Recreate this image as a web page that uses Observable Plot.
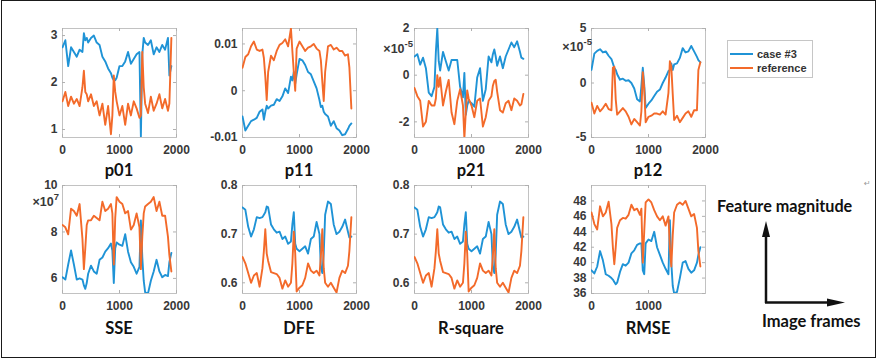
<!DOCTYPE html>
<html><head><meta charset="utf-8">
<script src="https://cdn.jsdelivr.net/npm/d3@7"></script>
<script src="https://cdn.jsdelivr.net/npm/@observablehq/plot@0.6"></script>
<style>
body{margin:0;background:#fff;}
#fig{position:relative;width:877px;height:360px;overflow:hidden;background:#fff;}
#fig svg.panel{position:absolute;}
#border{position:absolute;left:1px;top:0px;width:873px;height:356px;border:1.5px solid #1a1a1a;box-sizing:content-box;}
#legend{position:absolute;left:727px;top:40px;width:84px;height:36px;border:1px solid #c6c6c6;background:#fff;font-family:"Liberation Sans",Arial,sans-serif;font-weight:700;font-size:11px;color:#333;}
.lg{position:absolute;left:2px;height:14px;display:flex;align-items:center;}
.lg span.sw{display:inline-block;width:23px;height:2px;margin-right:4px;}
#overlay{position:absolute;left:0;top:0;}
</style></head>
<body><div id="fig"><div id="border"></div></div>
<script>
// ---------- data ----------
const frames = [0,50,100,150,200,250,300,350,375,400,425,450,500,550,600,650,700,750,800,850,875,900,925,950,1000,1050,1100,1150,1200,1250,1300,1350,1375,1400,1425,1450,1500,1550,1600,1650,1700,1750,1800,1850,1875,1910];

const p01Case3 = [2.75,2.9,2.35,2.75,2.65,2.55,2.7,2.65, 3.05,2.9,2.95, 2.85,2.95,3.0,2.85,2.8,2.55,2.45,2.3,2.2, 2.1,2.05,2.05, 2.1,2.35,2.35,2.45,2.65,2.4,2.5,2.6,2.65, 0.85,2.6,2.95, 2.85,2.8,2.9,2.6,2.75,2.65,2.8,2.7,2.95, 2.15,2.35];
const p01Ref   = [1.6,1.8,1.5,1.7,1.55,1.65,1.5,1.9, 2.25,1.8,1.75, 1.6,1.75,1.5,1.6,1.3,1.55,1.1,1.5,0.9, 1.3,2.15,1.8, 1.6,1.3,1.5,1.1,1.55,1.3,1.6,1.45,1.25, 1.3,2.65,1.9, 1.55,1.35,1.7,1.4,1.55,1.75,1.45,1.65,1.4, 1.55,2.95];

const p11Case3 = [-0.0055,-0.0085,-0.0075,-0.0065,-0.0062,-0.0058,-0.0045,-0.004, -0.0062,-0.0045,-0.0032, -0.0038,-0.0032,-0.003,-0.0018,-0.0022,-0.0012,0.0005,-0.0005,0.003, 0.0022,0.004,0.0015, 0.0035,0.0068,0.0065,0.0055,0.004,0.0035,0.002,0.0005,-0.002, -0.0035,-0.0032,-0.0045, -0.005,-0.0055,-0.0075,-0.0065,-0.008,-0.0085,-0.0095,-0.0093,-0.0082, -0.0075,-0.007];
const p11Ref   = [0.0049,0.0072,0.0078,0.0095,0.0105,0.0088,0.0085,0.0088, 0.007,0.003,-0.002, 0.004,0.0075,0.0065,0.0085,0.0098,0.0102,0.011,0.0095,0.0133, 0.0085,0.004,0.0, 0.009,0.0105,0.0095,0.0085,0.0092,0.0095,0.01,0.009,0.0085, 0.0065,0.002,-0.0022, 0.004,0.0095,0.0098,0.0088,0.0092,0.0085,0.0085,0.0075,0.0078, 0.005,-0.0038];

// p21 and p12 in units of 1e-5
const p21Case3 = [0.8,0.9,0.45,0.75,0.3,-0.75,-0.9,-0.5, 1.0,2.0,0.6, 0.2,1.0,0.6,0.2,0.65,0.65,0.65,-0.5,-0.95, 0.1,-1.7,-1.3, -1.1,-1.2,-1.35,-0.1,0.3,-1.1,-0.6,0.8,0.55, 0.9,1.1,0.8, 0.4,0.8,0.3,0.8,1.1,1.4,1.2,1.45,1.0, 0.75,0.7];
const p21Ref   = [-0.55,-0.9,-1.1,-2.2,-2.0,-1.1,-1.3,-1.3, -1.0,0.0,-0.5, -0.1,-1.3,-0.7,-0.2,-1.6,-2.1,-1.1,-0.6,-1.3, -2.7,-1.6,-0.65, -1.0,-1.3,-1.8,-1.1,-1.0,-2.2,-1.8,-1.1,-0.9, -0.45,-0.25,-0.2, -0.7,-1.5,-1.6,-1.2,-1.1,-1.5,-1.0,-1.1,-1.3, -1.25,-0.8];

const p12Case3 = [1.2,2.7,2.95,3.1,2.8,2.9,2.5,2.2, 1.8,1.4,1.2, 0.8,0.3,0.4,0.2,0.25,0.0,-0.5,-1.5,-1.7, -0.3,1.4,-0.2, -2.3,-1.9,-1.6,-1.2,-0.8,-0.6,0.0,0.5,1.1, 1.2,1.8,1.2, 1.7,1.8,2.3,3.2,2.8,2.9,3.4,2.9,2.4, 2.1,1.9];
const p12Ref   = [-1.8,-2.8,-2.1,-2.6,-2.3,-1.9,-2.4,-2.5, 1.4,1.5,-1.5, -2.9,-2.6,-2.3,-2.6,-3.1,-3.8,-3.3,-3.6,-3.9, -2.6,1.0,-0.5, -3.6,-3.1,-3.0,-2.8,-2.8,-2.9,-2.6,-2.9,-0.9, 2.0,1.5,-1.0, -3.4,-3.0,-3.6,-3.2,-2.8,-2.6,-3.1,-2.5,-2.5, 1.2,1.9];

// SSE in units of 1e7
const sseCase3 = [6.05,5.95,6.6,7.2,6.6,5.95,6.0,5.95, 5.7,5.55,5.8, 6.2,6.55,6.3,6.2,6.8,6.9,7.15,7.3,7.5, 7.2,5.8,7.3, 7.55,7.45,7.4,7.9,7.15,6.7,6.5,6.2,6.5, 8.5,6.9,5.9, 5.4,5.35,5.9,6.3,6.8,6.3,6.05,6.15,6.1, 6.7,7.1];
const sseRef   = [8.3,8.2,7.9,9.0,8.9,8.7,9.2,7.7, 6.4,7.3,8.3, 8.5,8.5,8.7,8.6,8.5,9.3,8.9,9.0,9.2, 8.8,6.6,8.6, 9.5,9.3,9.2,8.8,8.9,8.1,8.3,8.8,8.2, 6.4,7.8,8.8, 9.1,9.2,9.3,9.5,8.9,9.3,8.7,8.7,7.8, 7.0,6.3];

const dfeCase3 = [0.755,0.75,0.715,0.695,0.71,0.735,0.733,0.735, 0.74,0.745,0.757, 0.755,0.72,0.71,0.703,0.705,0.69,0.695,0.68,0.685, 0.72,0.745,0.68, 0.67,0.665,0.67,0.675,0.66,0.69,0.695,0.725,0.70, 0.632,0.62,0.66, 0.74,0.767,0.762,0.72,0.70,0.705,0.715,0.73,0.705, 0.693,0.695];
const dfeRef   = [0.653,0.64,0.62,0.60,0.615,0.62,0.592,0.63, 0.665,0.71,0.66, 0.645,0.622,0.62,0.618,0.61,0.588,0.605,0.592,0.6, 0.64,0.705,0.66, 0.582,0.59,0.595,0.61,0.64,0.625,0.62,0.625,0.615, 0.655,0.71,0.63, 0.6,0.592,0.6,0.59,0.58,0.61,0.625,0.62,0.635, 0.665,0.735];

const rsqCase3 = [0.755,0.75,0.715,0.695,0.71,0.735,0.733,0.735, 0.74,0.745,0.757, 0.755,0.72,0.71,0.703,0.705,0.69,0.695,0.68,0.685, 0.72,0.745,0.68, 0.67,0.665,0.67,0.675,0.66,0.69,0.695,0.725,0.70, 0.632,0.62,0.66, 0.74,0.767,0.762,0.72,0.70,0.705,0.715,0.73,0.705, 0.693,0.695];
const rsqRef   = [0.653,0.64,0.62,0.60,0.615,0.62,0.592,0.63, 0.665,0.71,0.66, 0.645,0.622,0.62,0.618,0.61,0.588,0.605,0.592,0.6, 0.64,0.705,0.66, 0.582,0.59,0.595,0.61,0.64,0.625,0.62,0.625,0.615, 0.655,0.71,0.63, 0.6,0.592,0.6,0.59,0.58,0.61,0.625,0.62,0.635, 0.665,0.735];

const rmseCase3 = [39.0,38.6,39.5,41.5,40.3,38.5,38.3,38.0, 37.8,37.5,37.2, 37.4,38.8,39.8,39.6,40.0,41.2,41.6,42.3,42.5, 42.5,39.0,38.5, 42.5,43.0,42.8,44.0,42.0,41.0,40.0,39.2,38.5, 45.5,40.0,37.0, 36.0,36.2,38.0,40.0,40.2,39.2,38.7,39.0,40.0, 41.0,42.0];
const rmseRef   = [46.5,45.0,44.3,47.3,46.0,46.5,47.9,45.0, 42.0,39.8,42.0, 44.5,45.5,45.8,45.7,46.2,47.5,46.8,47.0,46.2, 47.0,40.0,44.0, 47.8,48.2,47.8,46.8,46.0,45.5,46.0,44.8,46.0, 42.0,39.5,43.5, 46.5,47.5,47.8,47.5,48.0,47.0,46.0,46.3,44.5, 41.5,39.5];

const xTicksFull = [0, 1000, 2000];
const xTicksShort = [0, 1000];
const p01Ticks = [1, 2, 3];
const p11Ticks = [-0.01, 0, 0.01];
const p21Ticks = [-2, 0, 2];
const p12Ticks = [-5, 0, 5];
const sseTicks = [6, 8, 10];
const dfeTicks = [0.6, 0.7, 0.8];
const rmseTicks = [36, 38, 40, 42, 44, 46, 48];
const seriesNames = ["case #3", "reference"];
const titles = ["p01","p11","p21","p12","SSE","DFE","R-square","RMSE"];

// ---------- drawing ----------
const BLUE = "#1f93d6", ORANGE = "#f36a2a";
const fig = document.getElementById("fig");
const colLeft = [62, 242, 414, 591];
const rowTop = [28, 185];
const rowH = [109, 108];
const W = 114;

const panels = [
  {c3:p01Case3, ref:p01Ref, yDomain:[0.83,3.15], yTicks:p01Ticks, xTicks:xTicksFull},
  {c3:p11Case3, ref:p11Ref, yDomain:[-0.01,0.0133], yTicks:p11Ticks, xTicks:xTicksFull},
  {c3:p21Case3, ref:p21Ref, yDomain:[-2.67,2.0], yTicks:p21Ticks, xTicks:xTicksFull},
  {c3:p12Case3, ref:p12Ref, yDomain:[-5,5], yTicks:p12Ticks, xTicks:xTicksFull},
  {c3:sseCase3, ref:sseRef, yDomain:[5.35,10], yTicks:sseTicks, xTicks:xTicksFull},
  {c3:dfeCase3, ref:dfeRef, yDomain:[0.578,0.8], yTicks:dfeTicks, xTicks:xTicksFull},
  {c3:rsqCase3, ref:rsqRef, yDomain:[0.578,0.8], yTicks:dfeTicks, xTicks:xTicksFull},
  {c3:rmseCase3, ref:rmseRef, yDomain:[36,50], yTicks:rmseTicks, xTicks:xTicksShort},
];

const fmt = d => String(d);
const ML = 45, MR = 16, MT = 10, MB = 26;

panels.forEach((p, k) => {
  const row = Math.floor(k / 4), col = k % 4;
  const h = rowH[row];
  const data = frames.map((f, i) => ({f, c: p.c3[i], r: p.ref[i]}));
  const svg = Plot.plot({
    width: ML + W + MR, height: MT + h + MB,
    marginLeft: ML, marginRight: MR, marginTop: MT, marginBottom: MB,
    style: {fontFamily: "'Liberation Sans', Arial, sans-serif", fontSize: "12px", fontWeight: "bold", color: "#383838", background: "transparent", overflow: "visible"},
    x: {domain: [0, 2000]},
    y: {domain: p.yDomain},
    marks: [
      Plot.frame({stroke: "#c2c2c2"}),
      Plot.tickX(p.xTicks, {x: d => d, insetTop: h - 3, stroke: "#b0b0b0"}),
      Plot.tickX(p.xTicks, {x: d => d, insetBottom: h - 3, stroke: "#b0b0b0"}),
      Plot.tickY(p.yTicks, {y: d => d, insetRight: W - 3, stroke: "#b0b0b0"}),
      Plot.tickY(p.yTicks, {y: d => d, insetLeft: W - 3, stroke: "#b0b0b0"}),
      Plot.line(data, {x: "f", y: "c", stroke: BLUE, strokeWidth: 1.9, clip: true}),
      Plot.line(data, {x: "f", y: "r", stroke: ORANGE, strokeWidth: 1.9, clip: true}),
      Plot.axisX({ticks: p.xTicks, tickSize: 0, tickPadding: 8, tickFormat: fmt, label: null}),
      Plot.axisY({ticks: p.yTicks, tickSize: 0, tickPadding: 5, tickFormat: fmt, label: null})
    ]
  });
  svg.classList.add("panel");
  svg.style.left = (colLeft[col] - ML) + "px";
  svg.style.top = (rowTop[row] - MT) + "px";
  fig.appendChild(svg);
});

// legend
const lg = document.createElement("div");
lg.id = "legend";
lg.innerHTML = seriesNames.map((n, i) =>
  `<div class="lg" style="top:${i === 0 ? 6 : 20}px"><span class="sw" style="background:${i === 0 ? BLUE : ORANGE}"></span>${n}</div>`).join("");
fig.appendChild(lg);

// overlay: titles, exponents, annotation
const ns = "http://www.w3.org/2000/svg";
const ov = document.createElementNS(ns, "svg");
ov.setAttribute("id", "overlay");
ov.setAttribute("width", 877);
ov.setAttribute("height", 360);
const titleFont = "Lato, 'Open Sans', sans-serif";
let html = "";
titles.forEach((t, k) => {
  const row = Math.floor(k / 4), col = k % 4;
  const cx = colLeft[col] + W / 2;
  const by = row === 0 ? 176 : 334;
  html += `<text x="${cx}" y="${by}" text-anchor="middle" font-family="${titleFont}" font-weight="700" font-size="16.5" fill="#111">${t}</text>`;
});
const expo = (x, y, e) => `<text x="${x}" y="${y}" text-anchor="end" font-family="'Liberation Sans', Arial, sans-serif" font-weight="700" font-size="12.5" fill="#383838">×10<tspan dy="-6" font-size="9.5">${e}</tspan></text>`;
html += expo(413, 53, "-5");
html += expo(592, 51, "-5");
html += expo(59, 206, "7");
html += `<text x="717" y="212" font-family="${titleFont}" font-weight="700" font-size="16.2" fill="#111">Feature magnitude</text>`;
html += `<text x="762" y="327" font-family="${titleFont}" font-weight="700" font-size="16.5" fill="#111">Image frames</text>`;
html += `<line x1="766" y1="303" x2="766" y2="232" stroke="#111" stroke-width="2.5"/>`;
html += `<polygon points="766,221 762,237 770,237" fill="#111"/>`;
html += `<line x1="765" y1="302.5" x2="830" y2="302.5" stroke="#111" stroke-width="2.5"/>`;
html += `<polygon points="845,302.5 827,298.5 827,306.5" fill="#111"/>`;
html += `<text x="864" y="186" font-family="'DejaVu Sans', sans-serif" font-size="8" fill="#999">↵</text>`;
ov.innerHTML = html;
fig.appendChild(ov);
</script>
</body></html>
